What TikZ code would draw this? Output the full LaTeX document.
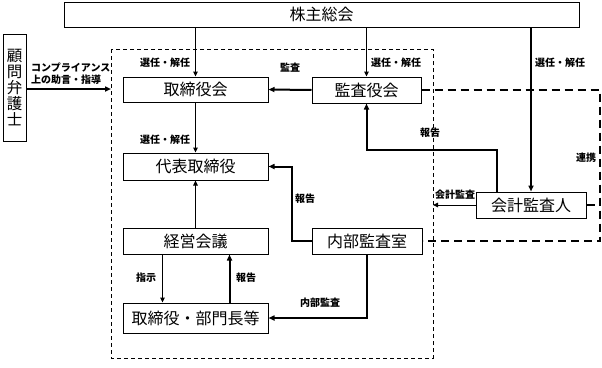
\documentclass[tikz,border=0pt]{standalone}
\usepackage{fontspec}
\setmainfont{Noto Sans CJK JP}
\usetikzlibrary{arrows.meta,calc}
\tikzset{
  caja/.style={
    draw=black,
    line width=1pt,
    fill=white,
    align=center,
    inner sep=2pt,
    font=\fontsize{16}{18}\selectfont
  },
  rotulo/.style={
    inner sep=1pt,
    align=left,
    font=\fontsize{10}{12}\selectfont\bfseries
  },
  arrow/.style={
    -{Triangle[length=5pt,width=4.5pt]},
    line width=1pt
  },
  arrowthick/.style={
    -{Triangle[length=6pt,width=5pt]},
    line width=2pt
  },
  marco/.style={
    dash pattern=on 4pt off 3pt,
    line width=1pt
  },
  enlace/.style={
    dash pattern=on 8pt off 5pt,
    line width=2.5pt
  }
}

\begin{document}
\begin{tikzpicture}[x=1pt,y=-1pt]
\useasboundingbox (0,0) rectangle (602,367);
\coordinate (marcoNO) at (111,49);
\coordinate (marcoSE) at (433,358);
\coordinate (esq) at (600,90);
\draw[marco] (marcoNO) rectangle (marcoSE);
\node[caja,minimum width=515,minimum height=25] (soukai) at (321.5,14.5) {株主総会};
\node[caja,minimum width=23,minimum height=107,inner sep=0pt,font=\fontsize{15.5}{16}\selectfont] (bengo) at (14.5,87.5) {顧\\問\\弁\\護\\士};
\node[caja,minimum width=145,minimum height=25] (torikai) at (195.5,89.5) {取締役会};
\node[caja,minimum width=145,minimum height=27] (daihyo) at (195.5,166.5) {代表取締役};
\node[caja,minimum width=145,minimum height=26] (keiei) at (195.5,241) {経営会議};
\node[caja,minimum width=145,minimum height=30] (bumon) at (195.5,318) {取締役・部門長等};
\node[caja,minimum width=109,minimum height=26] (kansa) at (366.5,90) {監査役会};
\node[caja,minimum width=110,minimum height=26] (naibu) at (367,241) {内部監査室};
\node[caja,minimum width=110,minimum height=26] (kaikei) at (531,205) {会計監査人};
\draw[enlace] (kansa.east) -- (esq) |- (naibu.east);
\draw[enlace] (kaikei.east) -- (kaikei.east -| esq);
\draw[arrow] (soukai.south -| torikai.north) -- (torikai.north);
\draw[arrow] (soukai.south -| kansa.north) -- (kansa.north);
\draw[arrowthick] (soukai.south -| kaikei.north) -- (kaikei.north);
\draw[arrowthick] (kansa.west) -- (torikai.east);
\draw[arrow] (torikai.south) -- (daihyo.north);
\draw[arrow,{Triangle[length=5pt,width=4.5pt]}-] (daihyo.south) -- (keiei.north);
\draw[arrow] ([xshift=-33pt]keiei.south) -- ([xshift=-33pt]bumon.north);
\draw[arrowthick] ([xshift=34pt]bumon.north) -- ([xshift=34pt]keiei.south);
\draw[arrowthick] (naibu.west) -- ++(-20,0) |- (daihyo.east);
\draw[arrowthick] (naibu.south) |- (bumon.east);
\draw[arrowthick] ([xshift=-34pt]kaikei.north) -- ++(0,-42) -| (kansa.south);
\draw[arrow] (kaikei.west) -- (kaikei.west -| marcoSE);
\draw[arrowthick] (bengo.east |- 0,89) -- (marcoNO |- 0,89);
\node[rotulo] (l1) at (165,63) {選任・解任};
\node[rotulo] (l2) at (396,63) {選任・解任};
\node[rotulo] (l3) at (560,63) {選任・解任};
\node[rotulo] (l4) at (290,68) {監査};
\node[rotulo] (l5) at (165,140) {選任・解任};
\node[rotulo,anchor=west] (l6) at (30,74) {コンプライアンス\\上の助言・指導};
\node[rotulo] (l7) at (146,278) {指示};
\node[rotulo] (l8) at (246,278) {報告};
\node[rotulo] (l9) at (305,199) {報告};
\node[rotulo] (l10) at (430,133) {報告};
\node[rotulo] (l11) at (455,195) {会計監査};
\node[rotulo] (l12) at (320,303) {内部監査};
\node[rotulo] (l13) at (586,158) {連携};
\end{tikzpicture}
\end{document}
